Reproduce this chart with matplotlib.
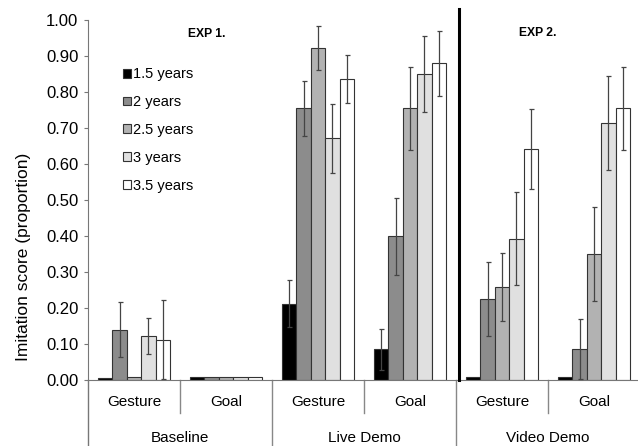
import numpy as np
import matplotlib.pyplot as plt

plt.rcParams['font.family'] = ['Liberation Sans', 'DejaVu Sans']

ages = ['1.5 years', '2 years', '2.5 years', '3 years', '3.5 years']
colors = ['#000000', '#8c8c8c', '#b2b2b2', '#e0e0e0', '#ffffff']
conds = ['Gesture', 'Goal', 'Gesture', 'Goal', 'Gesture', 'Goal']
demos = ['Baseline', 'Live Demo', 'Video Demo']

# rows = age groups, cols = condition groups
means = np.array([
    [0.005, 0.008, 0.212, 0.085, 0.008, 0.008],
    [0.140, 0.008, 0.755, 0.399, 0.225, 0.086],
    [0.008, 0.008, 0.922, 0.755, 0.259, 0.350],
    [0.122, 0.008, 0.672, 0.850, 0.392, 0.713],
    [0.112, 0.008, 0.836, 0.880, 0.642, 0.755],
])
errs = np.array([
    [0.000, 0.000, 0.066, 0.058, 0.000, 0.000],
    [0.077, 0.000, 0.076, 0.106, 0.104, 0.083],
    [0.000, 0.000, 0.060, 0.115, 0.094, 0.131],
    [0.050, 0.000, 0.096, 0.105, 0.129, 0.131],
    [0.110, 0.000, 0.066, 0.090, 0.112, 0.115],
])

fig = plt.figure(figsize=(6.38, 4.46), dpi=100)
ax = fig.add_axes([88/638, 1-380/446, 550/638, 360/446])

w = 0.157
x = np.arange(len(conds)) + 0.5
for k in range(len(ages)):
    e = np.where(errs[k] > 0, errs[k], np.nan)
    ax.bar(x + (k-2)*w, means[k], w, color=colors[k], edgecolor='#333333',
           linewidth=0.8, label=ages[k], zorder=2)
    ax.errorbar(x + (k-2)*w, means[k], yerr=e, fmt='none', ecolor='#444444',
                elinewidth=0.9, capsize=1.8, capthick=0.9, zorder=3)

ax.set_xlim(0, 550/92)
ax.set_ylim(0, 1)
ax.set_yticks(np.arange(0, 1.01, 0.1))
ax.set_yticklabels(['%.2f' % v for v in np.arange(0, 1.01, 0.1)], fontsize=12)
ax.set_xticks([])
ax.tick_params(axis='y', length=3, color='#777777', pad=4)
for s in ['top', 'right']:
    ax.spines[s].set_visible(False)
ax.spines['left'].set_color('#777777')
ax.spines['bottom'].set_color('#777777')
ax.set_ylabel('Imitation score (proportion)', fontsize=12.5)
ax.yaxis.set_label_coords(-0.103, 0.343)

# category axis below the plot
ax.plot([0, 0], [0, -0.19], color='#777777', lw=1, clip_on=False)
for i in range(1, 6):
    low = -0.092 if i % 2 == 1 else -0.19
    ax.plot([i, i], [0, low], color='#888888', lw=1, clip_on=False)
for i, c in enumerate(conds):
    ax.text(i + 0.5, -0.061, c, ha='center', va='center', fontsize=11)
for j, d in enumerate(demos):
    ax.text(2*j + 1, -0.161, d, ha='center', va='center', fontsize=11)

# divider between experiments
ax.plot([4.03, 4.03], [0, 1.03], color='black', lw=2.2, clip_on=False, zorder=4)
ax.text(1.29, 0.96, 'EXP 1.', fontsize=8.7, fontweight='bold', ha='center', va='center')
ax.text(4.89, 0.965, 'EXP 2.', fontsize=8.7, fontweight='bold', ha='center', va='center')

ax.legend(loc='upper left', bbox_to_anchor=(0.04, 0.905), frameon=False,
          fontsize=10.5, handlelength=0.55, handleheight=0.55, handletextpad=0.15,
          labelspacing=0.95)

fig.savefig('out.png', dpi=100)
